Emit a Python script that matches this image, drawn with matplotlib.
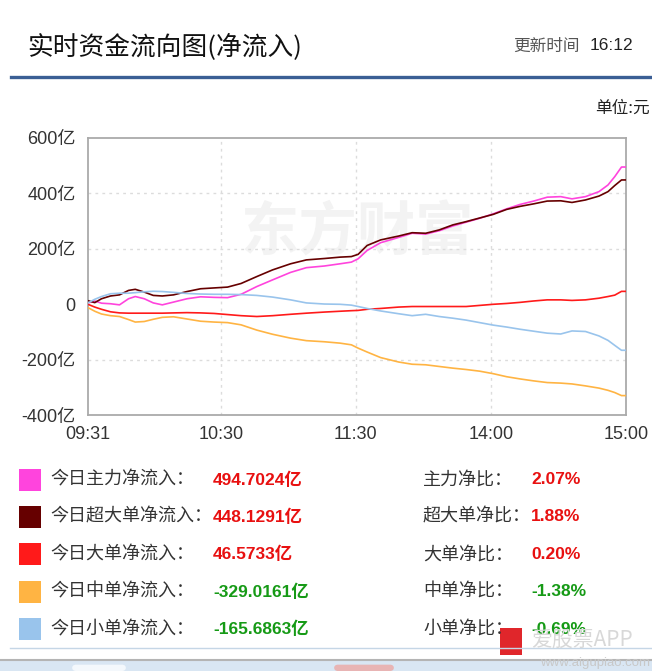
import matplotlib
matplotlib.use("Agg")
import matplotlib.pyplot as plt
from matplotlib.patches import Rectangle, FancyBboxPatch
from matplotlib.lines import Line2D

plt.rcParams['font.family'] = ['Noto Sans CJK SC', 'DejaVu Sans']
NUM_FONT = ['Liberation Sans', 'Noto Sans CJK SC']

W, H = 652, 671

# minutes after 09:31 (trading minutes, 11:30 -> 13:00 squeezed)
minutes = [0, 3, 6, 10, 14, 18, 21, 25, 29, 33, 38, 44, 50, 56, 62, 68, 75, 82,
           90, 97, 105, 112, 117, 120, 124, 130, 138, 144, 150, 156, 162, 168,
           174, 180, 186, 192, 198, 204, 210, 215, 221, 227, 231, 234, 237, 239]

main_flow = [5, 12, 4, 2, -2, 20, 28, 20, 5, -2, 8, 20, 27, 25, 24, 36, 64, 88,
             115, 132, 138, 146, 152, 164, 194, 222, 241, 256, 253, 265, 282, 296,
             310, 326, 344, 360, 372, 386, 388, 380, 388, 406, 430, 460, 494.7, 494.7]
super_flow = [13, 6, 20, 30, 34, 50, 54, 44, 32, 30, 34, 46, 56, 59, 62, 75, 100, 124,
              146, 160, 165, 170, 172, 180, 212, 232, 246, 258, 256, 268, 286, 298,
              311, 324, 342, 353, 362, 372, 373, 367, 376, 390, 406, 428, 448.1, 448.1]
large_flow = [0, -10, -18, -27, -31, -32, -32, -32, -32, -32, -31, -30, -31, -33, -37, -41, -44, -41,
              -36, -32, -28, -25, -23, -22, -18, -15, -10, -8, -8, -8, -8, -8,
              -4, 0, 3, 7, 12, 16, 16, 14, 16, 22, 28, 33, 46.6, 46.6]
medium_flow = [-12, -25, -35, -41, -44, -55, -64, -62, -54, -47, -45, -53, -61, -64, -66, -74, -93, -108,
               -122, -131, -135, -140, -146, -158, -172, -192, -208, -216, -218, -224, -230, -235,
               -241, -250, -261, -269, -276, -282, -284, -287, -294, -302, -310, -318, -329.0, -329.0]
small_flow = [5, 18, 28, 38, 40, 40, 42, 45, 47, 46, 43, 39, 37, 36, 36, 35, 32, 26,
              16, 5, 1, 0, -3, -8, -15, -24, -34, -41, -36, -44, -50, -57,
              -66, -75, -82, -90, -97, -104, -107, -96, -98, -114, -130, -148, -165.7, -165.7]

tick_pos = [0, 59, 119, 179, 239]
tick_labels = ['09:31', '10:30', '11:30', '14:00', '15:00']
y_ticks = [-400, -200, 0, 200, 400, 600]
y_labels = ['-400亿', '-200亿', '0', '200亿', '400亿', '600亿']

names = ['今日主力净流入：', '今日超大单净流入：', '今日大单净流入：', '今日中单净流入：', '今日小单净流入：']
amounts = ['494.7024亿', '448.1291亿', '46.5733亿', '-329.0161亿', '-165.6863亿']
ratio_names = ['主力净比：', '超大单净比：', '大单净比：', '中单净比：', '小单净比：']
ratios = ['2.07%', '1.88%', '0.20%', '-1.38%', '-0.69%']
colors = ['#ff44dd', '#660000', '#ff1a1a', '#ffb443', '#99c4ec']
series = [main_flow, super_flow, large_flow, medium_flow, small_flow]


def fx(x):
    return x / W


def fy(y):
    return 1 - y / H


fig = plt.figure(figsize=(W / 100, H / 100), dpi=100)

# header
fig.text(fx(27), fy(48), '实时资金流向图(净流入)', fontsize=18.5, color='#111', va='center', ha='left')
fig.text(fx(513), fy(46), '更新时间', fontsize=12, color='#555', va='center', ha='left')
fig.text(fx(633), fy(46), '16:12', fontsize=12.5, color='#222', va='center', ha='right', family=NUM_FONT)
fig.add_artist(Line2D([fx(11), fx(652)], [fy(76.5), fy(76.5)], color='#3b5f95', lw=2.4))
fig.text(fx(650), fy(108), '单位:元', fontsize=12, color='#222', va='center', ha='right')

# chart
ax = fig.add_axes([fx(88), fy(415.3), fx(626) - fx(88), fy(137.8) - fy(415.3)])
ax.text(0.50, 0.655, '东方财富', transform=ax.transAxes, fontsize=42, fontweight='bold',
        color='#f3f3f3', ha='center', va='center', zorder=0)
for s, c in zip(series, colors):
    ax.plot(minutes, s, color=c, lw=1.2, zorder=3)

ax.set_xlim(0, 239)
ax.set_ylim(-400, 600)
ax.set_xticks(tick_pos)
ax.set_xticklabels(tick_labels, family=NUM_FONT, fontsize=13, color='#333')
ax.set_yticks(y_ticks)
ax.set_yticklabels(y_labels, family=NUM_FONT, fontsize=13, color='#333')
ax.tick_params(length=0, pad=8)
ax.tick_params(axis='y', pad=9)
for v in [-200, 200, 400]:
    ax.axhline(v, color='#dcdcdc', lw=1, ls=(0, (2, 3)), zorder=1)
for v in tick_pos[1:-1]:
    ax.axvline(v, color='#dcdcdc', lw=1, ls=(0, (2, 3)), zorder=1)
for sp in ax.spines.values():
    sp.set_color('#aaaaaa')
    sp.set_linewidth(1.3)

# legend table
row_y = [479.5, 516.8, 554.2, 591.6, 629.0]
for i in range(5):
    y = row_y[i]
    fig.add_artist(Rectangle((fx(19), fy(y + 11)), fx(22), fy(0) - fy(22),
                             transform=fig.transFigure, facecolor=colors[i], edgecolor='none'))
    fig.text(fx(50), fy(y), names[i], fontsize=13, color='#333', va='center', ha='left')
    vc = '#e81010' if not amounts[i].startswith('-') else '#169a16'
    fig.text(fx(213), fy(y), amounts[i], fontsize=12.5, color=vc, fontweight='bold',
             va='center', ha='left', family=NUM_FONT)
    fig.text(fx(423), fy(y), ratio_names[i], fontsize=13, color='#333', va='center', ha='left')
    fig.text(fx(531), fy(y), ratios[i], fontsize=12.5, color=vc, fontweight='bold',
             va='center', ha='left', family=NUM_FONT)

# footer
fig.add_artist(Line2D([fx(10), fx(652)], [fy(648), fy(648)], color='#c5d6e6', lw=1))
fig.add_artist(Rectangle((0, 0), 1, fy(660), transform=fig.transFigure,
                         facecolor='#d9e6f3', edgecolor='none'))
fig.add_artist(Line2D([0, 1], [fy(660), fy(660)], color='#b4b4b4', lw=1.5))
fig.add_artist(FancyBboxPatch((fx(72), 0), fx(54), fy(664) - 0.001, boxstyle='round,pad=0,rounding_size=0.006',
                              transform=fig.transFigure, facecolor='#f4f8fc', edgecolor='none'))
fig.add_artist(FancyBboxPatch((fx(334), 0), fx(60), fy(664) - 0.001, boxstyle='round,pad=0,rounding_size=0.006',
                              transform=fig.transFigure, facecolor='#e8b4b4', edgecolor='none'))

# app watermark
fig.add_artist(Rectangle((fx(500), fy(655)), fx(22), fy(628) - fy(655),
                         transform=fig.transFigure, facecolor='#e0262b', edgecolor='none'))
fig.text(fx(531), fy(640), '爱股票APP', fontsize=15, color='#d8d8d8', va='center', ha='left')
fig.text(fx(650), fy(663), 'www.aigupiao.com', fontsize=9.5, color='#c8c8c8', va='center', ha='right',
         family=NUM_FONT)

fig.savefig('out.png', dpi=100)
